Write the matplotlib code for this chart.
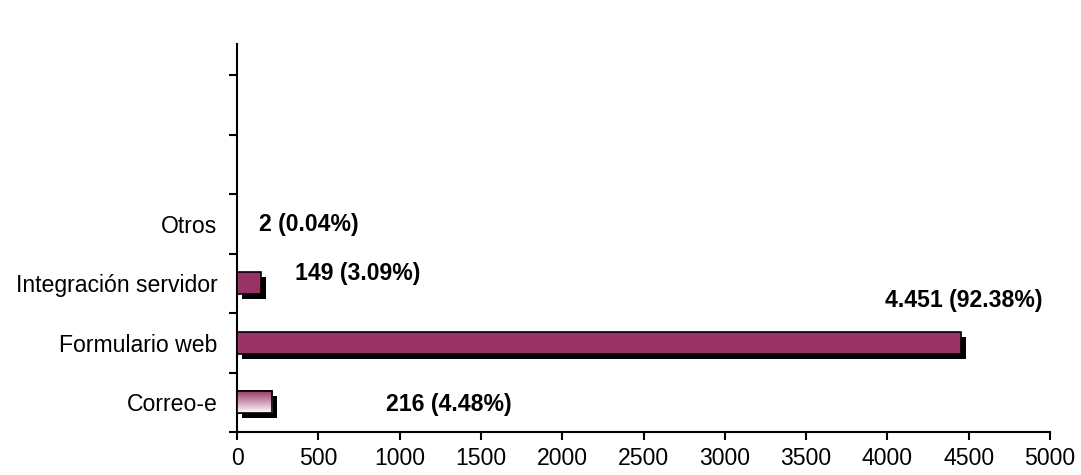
import matplotlib
matplotlib.use("Agg")
import matplotlib.pyplot as plt
import matplotlib.patheffects as pe
import numpy as np
from matplotlib.colors import LinearSegmentedColormap

categories = ["Correo-e", "Formulario web", "Integración servidor", "Otros"]
values = [216, 4451, 149, 2]
labels = ["216 (4.48%)", "4.451 (92.38%)", "149 (3.09%)", "2 (0.04%)"]
label_x = [1300, 4471, 745, 443]
label_y = [-0.03, 1.72, 2.17, 3.0]
xticks = [0, 500, 1000, 1500, 2000, 2500, 3000, 3500, 4000, 4500, 5000]

plt.rcParams['font.family'] = ['Liberation Sans', 'DejaVu Sans']
fig = plt.figure(figsize=(10.81, 4.75), dpi=100)
ax = fig.add_axes([237/1081, 1-432/475, (1050-237)/1081, (432-44)/475])

FS = 16.6
plum = "#993366"
shadow = [pe.SimplePatchShadow(offset=(3.6, -3.6), shadow_rgbFace="black", alpha=1.0), pe.Normal()]
ypos = np.arange(len(categories))
bars = ax.barh(ypos, values, height=0.37, color=plum, edgecolor="black", linewidth=1.2, zorder=3)
for b in bars:
    b.set_path_effects(shadow)

# gradient for first bar
b0 = bars[0]
b0.set_facecolor("white")
cmap = LinearSegmentedColormap.from_list("g", ["#ffffff", "#9c3a68"])
grad = np.linspace(0, 1, 100).reshape(-1, 1)
x0, y0 = b0.get_x(), b0.get_y()
w, h = b0.get_width(), b0.get_height()
im = ax.imshow(grad, cmap=cmap, aspect="auto", extent=[x0, x0 + w, y0, y0 + h],
               origin="lower", zorder=3.5)
im.set_clip_path(b0)
ax.barh([ypos[0]], [values[0]], height=0.37, facecolor="none", edgecolor="black", linewidth=1.2, zorder=4)

for t, lx, ly in zip(labels, label_x, label_y):
    ax.text(lx, ly, t, ha="center", va="center", fontsize=FS, fontweight="bold", zorder=5)

ax.set_xlim(0, 5000)
ax.set_ylim(-0.5, 6.03)
ax.set_xticks(xticks)
ax.set_xticklabels([str(v) for v in xticks], fontsize=FS)
ax.set_yticks(ypos)
ax.set_yticklabels(categories, fontsize=FS)
ax.set_yticks(np.arange(-0.5, 6.0, 1.0), minor=True)
ax.tick_params(axis="y", which="major", length=0, pad=14)
ax.tick_params(axis="y", which="minor", length=6, width=1.5, direction="out")
ax.tick_params(axis="x", length=6, width=1.5, direction="out", pad=5)
for s in ["top", "right"]:
    ax.spines[s].set_visible(False)
for s in ["left", "bottom"]:
    ax.spines[s].set_linewidth(1.5)

fig.savefig("out.png", dpi=100)
